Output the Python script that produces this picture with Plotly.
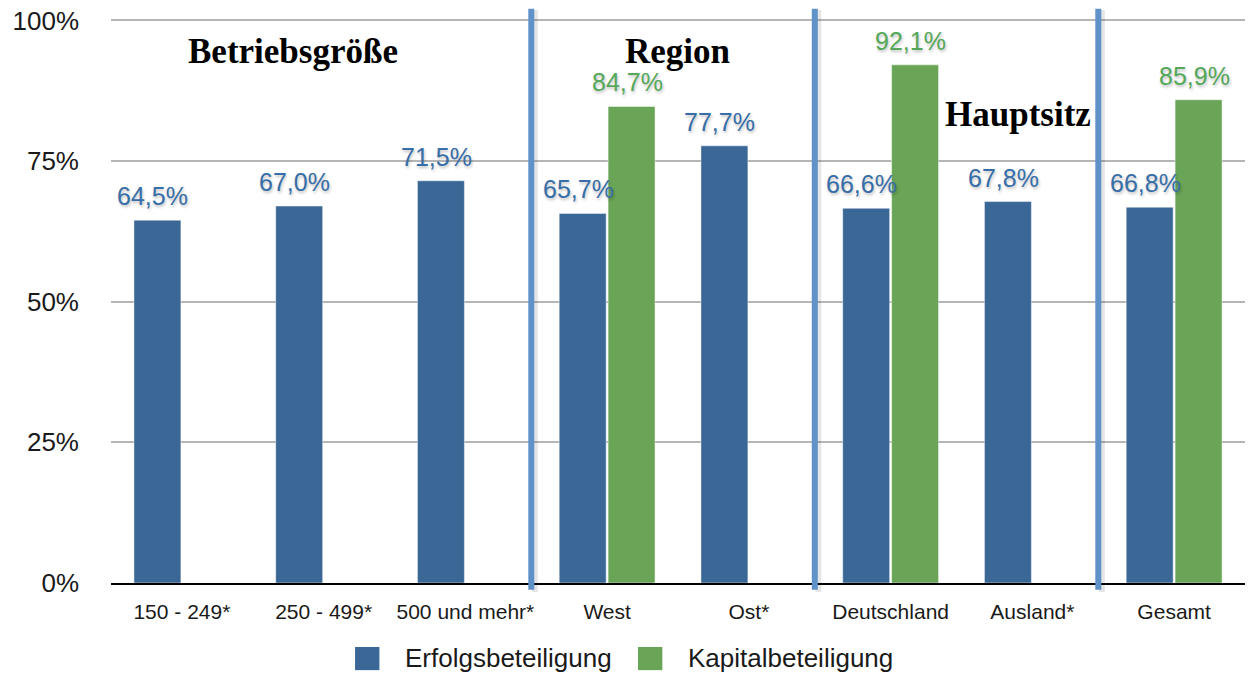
import plotly.graph_objects as go

categories = ["150 - 249*", "250 - 499*", "500 und mehr*", "West", "Ost*", "Deutschland", "Ausland*", "Gesamt"]
erfolg = [64.5, 67.0, 71.5, 65.7, 77.7, 66.6, 67.8, 66.8]
kapital = [None, None, None, 84.7, None, 92.1, None, 85.9]
series_names = ["Erfolgsbeteiligung", "Kapitalbeteiligung"]
y_ticks = [0, 25, 50, 75, 100]
y_ticktext = ["0%", "25%", "50%", "75%", "100%"]
sections = ["Betriebsgröße", "Region", "Hauptsitz"]
separators_after = [2, 4, 6]  # index of last category before a separator

BLUE = "#3b6797"
GREEN = "#6aa557"
BLUE_TXT = "#386ea8"
GREEN_TXT = "#55a85a"
SEP = "#5f92c9"

fig = go.Figure()
fig.add_bar(x=categories, y=erfolg, name=series_names[0],
            marker=dict(color=BLUE, line=dict(color="rgba(255,255,255,0.45)", width=1)), showlegend=False)
fig.add_bar(x=categories, y=kapital, name=series_names[1],
            marker=dict(color=GREEN, line=dict(color="rgba(255,255,255,0.45)", width=1)), showlegend=False)

def fmt(v):
    return f"{v:.1f}".replace(".", ",") + "%"

shadow = "1px 2px 3px rgba(0,0,0,0.25)"
label_font = "Liberation Sans, Arial"
anns = []
for c, v in zip(categories, erfolg):
    anns.append(dict(x=c, y=v, xref="x", yref="y", text=fmt(v), showarrow=False,
                     xshift=-29, yshift=24, yanchor="middle",
                     font=dict(family=label_font, size=25, color=BLUE_TXT, shadow=shadow)))
for c, v in zip(categories, kapital):
    if v is None:
        continue
    anns.append(dict(x=c, y=v, xref="x", yref="y", text=fmt(v), showarrow=False,
                     xshift=20, yshift=24, yanchor="middle",
                     font=dict(family=label_font, size=25, color=GREEN_TXT, shadow=shadow)))

# section titles
title_font = dict(family="Liberation Serif", size=35, color="black")
title_pos = [(0.784, 94.5), (3.493, 94.5), (5.899, 83.3)]
for name, (tx, ty) in zip(sections, title_pos):
    anns.append(dict(x=tx, y=ty, xref="x", yref="y", text="<b>" + name + "</b>",
                     showarrow=False, yanchor="middle", font=title_font))

shapes = []
for i in separators_after:
    xpos = i + 0.5 - 0.035
    shapes.append(dict(type="line", xref="x", yref="paper", x0=xpos + 0.025, x1=xpos + 0.025, y0=-0.016, y1=1.016,
                       line=dict(color="rgba(0,0,0,0.10)", width=6)))
    shapes.append(dict(type="line", xref="x", yref="paper", x0=xpos, x1=xpos, y0=-0.012, y1=1.018,
                       line=dict(color=SEP, width=6)))

# manual legend (larger square swatches)
legend_items = [(series_names[0], BLUE, 0.2152), (series_names[1], GREEN, 0.4647)]
for name, col, lx in legend_items:
    shapes.append(dict(type="rect", xref="paper", yref="paper", x0=lx, x1=lx + 0.0215,
                       y0=-0.1545, y1=-0.1135, fillcolor=col, line=dict(width=0)))
    anns.append(dict(x=lx + 0.0425, y=-0.1335, xref="paper", yref="paper", text=name,
                     showarrow=False, xanchor="left", yanchor="middle",
                     font=dict(family=label_font, size=26, color="#1a1a1a")))

fig.update_layout(
    width=1249, height=673,
    margin=dict(l=111, r=4, t=19, b=90),
    paper_bgcolor="white", plot_bgcolor="white",
    barmode="group", bargap=0.31, bargroupgap=0.04,
    font=dict(family=label_font, color="#1a1a1a"),
    annotations=anns, shapes=shapes,
    showlegend=False,
    hovermode=False,
    xaxis=dict(type="category", showgrid=False, showline=True, linecolor="black", linewidth=2,
               ticks="", tickfont=dict(size=21, color="#1a1a1a"), ticklabelstandoff=9,
               range=[-0.5, 7.5], automargin=False),
    yaxis=dict(range=[0, 100.25], tickvals=y_ticks, ticktext=y_ticktext, showgrid=True,
               gridcolor="#b5b5b5", gridwidth=2, zeroline=False, showline=False,
               tickfont=dict(size=26, color="#1a1a1a"), ticklabelstandoff=31, automargin=False,
               ticklabeloverflow="allow"),
)

fig.write_html("out.html", config={"displayModeBar": False},
               post_script="document.body.style.margin='0px';")
